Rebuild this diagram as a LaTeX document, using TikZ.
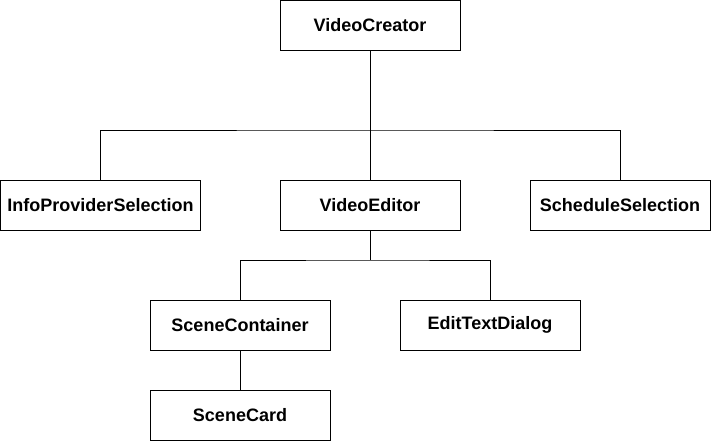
\documentclass[tikz,border=0pt]{standalone}
\usepackage{fontspec}
\setmainfont{Liberation Sans}
\usepackage{tikz}
\usetikzlibrary{positioning, calc}

\begin{document}
\begin{tikzpicture}[x=1pt, y=-1pt,
        classbox/.style={rectangle, draw=black, line width=1pt, fill=white,
                minimum width=180pt, minimum height=50pt, inner sep=0pt,
                font=\fontsize{18}{21}\selectfont\bfseries},
        link/.style={draw=black, line width=1pt}]
        \useasboundingbox (0,0) rectangle (712,442);

        % Top
        \node[classbox] (creator) at (370,25) {VideoCreator};

        % Second row
        \foreach \x/\name/\text/\w in {100.5/info/InfoProviderSelection/200, 370/editor/VideoEditor/180, 620/sched/ScheduleSelection/180} {
        \node[classbox, minimum width=\w pt] (\name) at (\x,205) {\text};
        }

        % Third row
        \node[classbox] (container) at (240,325) {SceneContainer};
        \node[classbox] (dialog) at (490,325) {EditTextDialog};
        \node[classbox] (card) at (240,415) {SceneCard};

        % Connectors
        \coordinate (busA) at (370,130);
        \coordinate (busB) at (370,260);
        \draw[link] (creator.south) -- (busA);
        \draw[link] (info.north) |- (busA) -| (sched.north);
        \draw[link] (busA) -- (editor.north);
        \draw[link] (editor.south) -- (busB);
        \draw[link] (container.north) |- (busB) -| (dialog.north);
        \draw[link] (container.south) -- (card.north);
    \end{tikzpicture}
\end{document}
